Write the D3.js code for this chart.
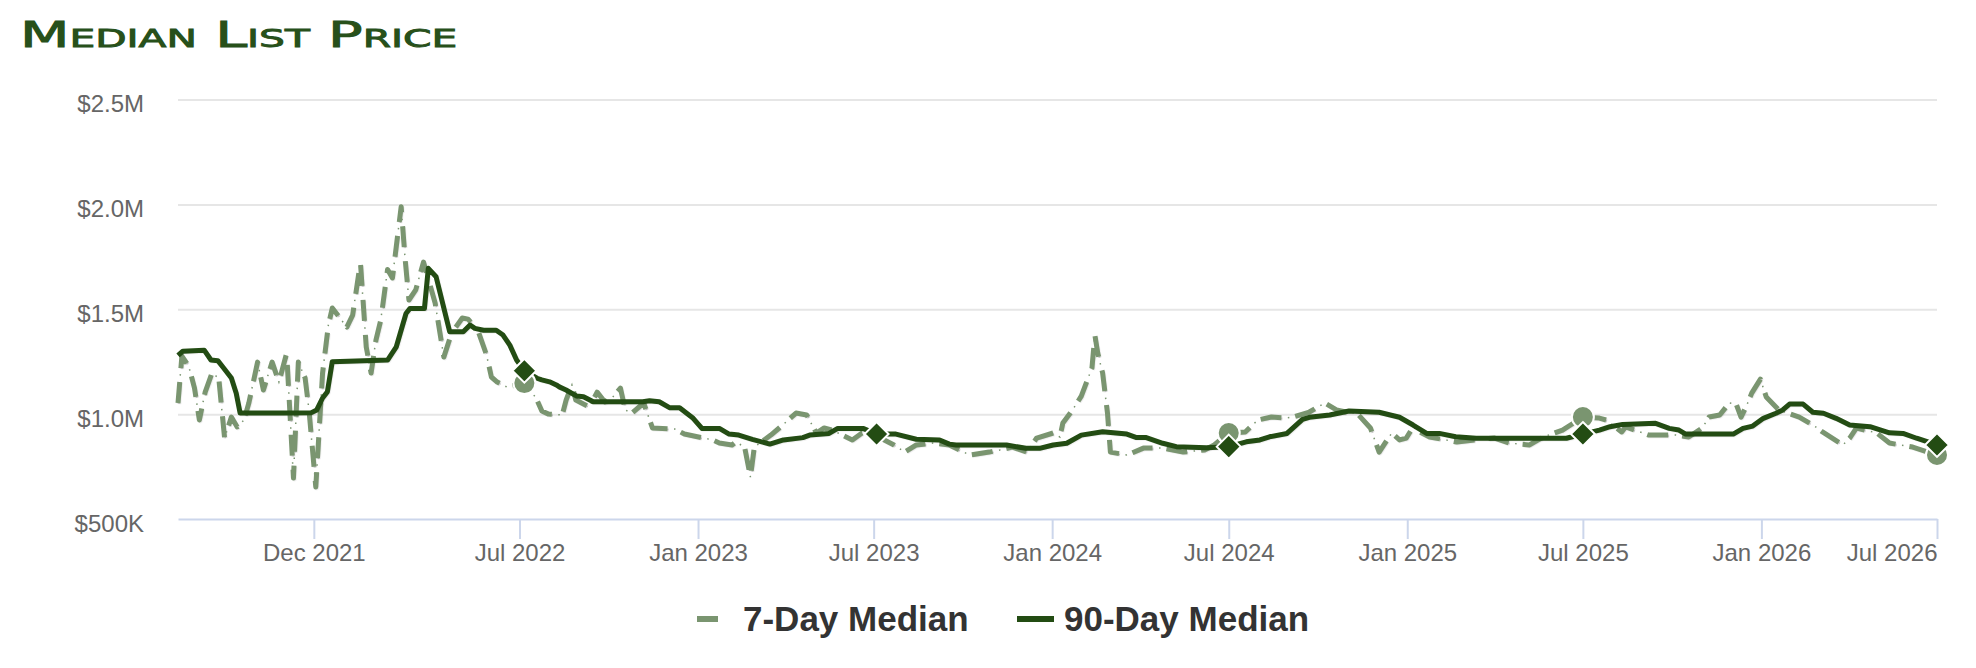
<!DOCTYPE html>
<html>
<head>
<meta charset="utf-8">
<script src="https://cdn.jsdelivr.net/npm/d3@7"></script>
<style>
body { margin: 0; background: #fff; }
svg { display: block; }
</style>
</head>
<body>
<svg id="chart" width="1976" height="668"></svg>
<script>
const sevenDay = [
    ["2021-07-14", 1053000], ["2021-07-18", 1277000], ["2021-07-25", 1229000], ["2021-07-31", 1124000],
    ["2021-08-05", 972000], ["2021-08-11", 1105000], ["2021-08-18", 1196000], ["2021-08-25", 1172000],
    ["2021-08-31", 886000], ["2021-09-07", 986000], ["2021-09-13", 939000], ["2021-09-20", 972000],
    ["2021-09-25", 1053000], ["2021-10-04", 1248000], ["2021-10-10", 1115000], ["2021-10-19", 1248000],
    ["2021-10-26", 1153000], ["2021-11-03", 1291000], ["2021-11-10", 695000], ["2021-11-15", 1248000],
    ["2021-11-22", 1172000], ["2021-11-26", 1020000], ["2021-12-03", 653000], ["2021-12-10", 1196000],
    ["2021-12-16", 1425000], ["2021-12-20", 1506000], ["2022-01-04", 1415000], ["2022-01-10", 1472000],
    ["2022-01-18", 1725000], ["2022-01-24", 1320000], ["2022-01-29", 1196000], ["2022-02-03", 1353000],
    ["2022-02-08", 1449000], ["2022-02-15", 1690000], ["2022-02-20", 1649000], ["2022-03-01", 1989000],
    ["2022-03-05", 1744000], ["2022-03-09", 1544000], ["2022-03-16", 1592000], ["2022-03-24", 1725000],
    ["2022-04-05", 1530000], ["2022-04-14", 1272000], ["2022-04-22", 1387000], ["2022-05-03", 1458000],
    ["2022-05-09", 1453000], ["2022-05-19", 1400000], ["2022-05-28", 1282000], ["2022-06-02", 1177000],
    ["2022-06-08", 1153000], ["2022-06-18", 1129000], ["2022-07-06", 1148000], ["2022-07-18", 1077000],
    ["2022-07-24", 1015000], ["2022-07-31", 1000000], ["2022-08-14", 996000], ["2022-08-18", 1067000],
    ["2022-08-24", 1139000], ["2022-08-28", 1067000], ["2022-09-11", 1034000], ["2022-09-19", 1105000],
    ["2022-09-27", 1058000], ["2022-10-05", 1081000], ["2022-10-13", 1124000], ["2022-10-18", 1020000],
    ["2022-10-25", 1005000], ["2022-11-06", 1053000], ["2022-11-15", 934000], ["2022-12-08", 929000],
    ["2022-12-18", 905000], ["2023-01-16", 877000], ["2023-01-23", 862000], ["2023-02-05", 853000],
    ["2023-02-09", 867000], ["2023-02-18", 843000], ["2023-02-24", 700000], ["2023-02-28", 843000],
    ["2023-03-17", 900000], ["2023-03-27", 939000], ["2023-04-12", 1005000], ["2023-04-23", 996000],
    ["2023-05-03", 910000], ["2023-05-11", 934000], ["2023-05-19", 924000], ["2023-06-09", 877000],
    ["2023-06-19", 910000], ["2023-07-04", 896000], ["2023-07-22", 853000], ["2023-08-02", 819000],
    ["2023-08-14", 853000], ["2023-08-31", 862000], ["2023-09-17", 853000], ["2023-10-08", 805000],
    ["2023-10-28", 819000], ["2023-11-08", 829000], ["2023-11-21", 843000], ["2023-12-06", 819000],
    ["2023-12-16", 886000], ["2024-01-02", 910000], ["2024-01-09", 891000], ["2024-01-12", 958000],
    ["2024-01-22", 1020000], ["2024-01-31", 1086000], ["2024-02-11", 1220000], ["2024-02-14", 1377000],
    ["2024-02-17", 1291000], ["2024-02-22", 1196000], ["2024-02-27", 1005000], ["2024-03-01", 819000],
    ["2024-03-18", 805000], ["2024-04-04", 838000], ["2024-04-24", 838000], ["2024-05-15", 819000],
    ["2024-06-06", 829000], ["2024-06-16", 853000], ["2024-07-01", 910000], ["2024-07-18", 915000],
    ["2024-07-31", 972000], ["2024-08-14", 986000], ["2024-08-28", 981000], ["2024-09-05", 986000],
    ["2024-09-22", 1010000], ["2024-10-08", 1053000], ["2024-10-20", 1020000], ["2024-10-30", 1010000],
    ["2024-11-10", 1005000], ["2024-11-24", 934000], ["2024-12-03", 819000], ["2024-12-16", 910000],
    ["2024-12-24", 877000], ["2024-12-31", 886000], ["2025-01-07", 939000], ["2025-01-14", 915000],
    ["2025-01-24", 891000], ["2025-02-21", 867000], ["2025-03-11", 877000], ["2025-04-01", 886000],
    ["2025-04-16", 862000], ["2025-05-07", 853000], ["2025-05-21", 891000], ["2025-06-10", 924000],
    ["2025-07-01", 986000], ["2025-07-18", 981000], ["2025-07-25", 972000], ["2025-08-10", 915000],
    ["2025-08-14", 939000], ["2025-09-07", 900000], ["2025-10-05", 900000], ["2025-10-18", 891000],
    ["2025-11-01", 934000], ["2025-11-08", 986000], ["2025-11-19", 996000], ["2025-11-29", 1053000],
    ["2025-12-06", 1048000], ["2025-12-11", 986000], ["2025-12-17", 1043000], ["2025-12-22", 1100000],
    ["2025-12-31", 1167000], ["2026-01-06", 1082000], ["2026-01-19", 1020000], ["2026-02-09", 986000],
    ["2026-02-26", 939000], ["2026-03-05", 915000], ["2026-03-26", 853000], ["2026-04-02", 886000],
    ["2026-04-09", 934000], ["2026-04-30", 910000], ["2026-05-13", 862000], ["2026-06-06", 843000],
    ["2026-07-01", 805000]
];

const ninetyDay = [
    ["2021-07-14", 1280000], ["2021-07-19", 1300000], ["2021-08-10", 1305000], ["2021-08-17", 1258000],
    ["2021-08-24", 1255000], ["2021-08-29", 1226000], ["2021-09-07", 1172000], ["2021-09-12", 1100000],
    ["2021-09-16", 1005000], ["2021-10-30", 1005000], ["2021-11-28", 1006000], ["2021-12-04", 1020000],
    ["2021-12-10", 1077000], ["2021-12-15", 1107000], ["2021-12-20", 1250000], ["2022-02-15", 1258000],
    ["2022-02-24", 1321000], ["2022-03-06", 1480000], ["2022-03-10", 1504000], ["2022-03-25", 1504000],
    ["2022-03-29", 1695000], ["2022-04-06", 1655000], ["2022-04-20", 1393000], ["2022-05-04", 1393000],
    ["2022-05-11", 1425000], ["2022-05-16", 1409000], ["2022-05-25", 1400000], ["2022-06-07", 1400000],
    ["2022-06-14", 1377000], ["2022-06-21", 1329000], ["2022-06-28", 1258000], ["2022-07-06", 1207000],
    ["2022-07-19", 1171000], ["2022-07-24", 1163000], ["2022-08-01", 1154000], ["2022-08-08", 1139000],
    ["2022-08-11", 1130000], ["2022-08-18", 1115000], ["2022-08-29", 1086000], ["2022-09-05", 1083000],
    ["2022-09-15", 1059000], ["2022-11-05", 1059000], ["2022-11-12", 1064000], ["2022-11-22", 1059000],
    ["2022-12-03", 1030000], ["2022-12-13", 1030000], ["2022-12-27", 980000], ["2023-01-05", 932000],
    ["2023-01-23", 932000], ["2023-02-02", 905000], ["2023-02-12", 900000], ["2023-02-26", 880000],
    ["2023-03-16", 857000], ["2023-03-30", 877000], ["2023-04-19", 888000], ["2023-04-26", 900000],
    ["2023-05-16", 908000], ["2023-05-25", 932000], ["2023-06-20", 932000], ["2023-07-04", 905000],
    ["2023-07-24", 905000], ["2023-08-14", 880000], ["2023-09-07", 877000], ["2023-09-17", 857000],
    ["2023-09-24", 853000], ["2023-11-15", 853000], ["2023-12-05", 837000], ["2023-12-19", 837000],
    ["2024-01-02", 853000], ["2024-01-16", 861000], ["2024-01-31", 900000], ["2024-02-22", 916000],
    ["2024-03-18", 905000], ["2024-03-28", 888000], ["2024-04-07", 888000], ["2024-04-24", 861000],
    ["2024-05-08", 845000], ["2024-06-08", 840000], ["2024-07-01", 845000], ["2024-07-19", 868000],
    ["2024-08-02", 877000], ["2024-08-12", 892000], ["2024-08-30", 908000], ["2024-09-15", 975000],
    ["2024-09-22", 985000], ["2024-10-13", 996000], ["2024-11-02", 1015000], ["2024-12-03", 1009000],
    ["2024-12-24", 985000], ["2025-01-07", 948000], ["2025-01-21", 908000], ["2025-02-03", 908000],
    ["2025-02-20", 892000], ["2025-03-13", 885000], ["2025-06-14", 885000], ["2025-07-01", 905000],
    ["2025-07-18", 924000], ["2025-07-29", 940000], ["2025-08-11", 951000], ["2025-09-14", 956000],
    ["2025-09-28", 932000], ["2025-10-08", 924000], ["2025-10-15", 905000], ["2025-12-03", 905000],
    ["2025-12-13", 932000], ["2025-12-23", 943000], ["2026-01-03", 980000], ["2026-01-16", 1004000],
    ["2026-01-23", 1020000], ["2026-01-30", 1048000], ["2026-02-13", 1048000], ["2026-02-23", 1009000],
    ["2026-03-06", 1004000], ["2026-03-19", 980000], ["2026-04-02", 948000], ["2026-04-23", 940000],
    ["2026-05-13", 911000], ["2026-05-27", 908000], ["2026-06-10", 885000], ["2026-07-01", 853000]
];

const yTicks = [500000, 1000000, 1500000, 2000000, 2500000];
const yTickLabels = ["$500K", "$1.0M", "$1.5M", "$2.0M", "$2.5M"];
const xTicks = ["2021-12-01", "2022-07-01", "2023-01-01", "2023-07-01", "2024-01-01",
    "2024-07-01", "2025-01-01", "2025-07-01", "2026-01-01", "2026-07-01"];
const xTickLabels = ["Dec 2021", "Jul 2022", "Jan 2023", "Jul 2023", "Jan 2024",
    "Jul 2024", "Jan 2025", "Jul 2025", "Jan 2026", "Jul 2026"];
const sevenDayMarkers = ["2022-07-06", "2024-07-01", "2025-07-01", "2026-07-01"];
const ninetyDayMarkers = ["2022-07-06", "2023-07-04", "2024-07-01", "2025-07-01", "2026-07-01"];
const legendLabels = ["7-Day Median", "90-Day Median"];
const titleText = "Median List Price";

const colors = {
    seven: "#7a9570",
    ninety: "#234c13",
    title: "#27501a",
    grid: "#e6e6e6",
    axis: "#ccd6eb",
    label: "#666666",
    legend: "#333333"
};
const dash = "21,14";
const parse = d3.utcParse("%Y-%m-%d");
const plot = { left: 178, right: 1937, top: 99.5, bottom: 519 };

const svg = d3.select("#chart");

const x = d3.scaleUtc()
    .domain([parse("2021-07-14"), parse("2026-07-01")])
    .range([plot.left, plot.right]);
const y = d3.scaleLinear()
    .domain([500000, 2500000])
    .range([plot.bottom, plot.top]);

// title: wide small caps, stretched to the reference width
const title = svg.append("text")
    .attr("x", 0)
    .attr("y", 0)
    .style("font-family", "'DejaVu Sans', sans-serif")
    .style("font-variant", "small-caps")
    .style("font-size", "36px")
    .attr("fill", colors.title)
    .attr("stroke", colors.title)
    .attr("stroke-width", 0.9)
    .text(titleText);
const titleW = title.node().getComputedTextLength();
title.attr("transform", `translate(20,47) scale(${431 / titleW},1)`);

// y axis + grid
const yAxis = svg.append("g")
    .attr("transform", `translate(${plot.left},0)`)
    .call(d3.axisLeft(y)
        .tickValues(yTicks)
        .tickFormat((d, i) => yTickLabels[i])
        .tickSize(-(plot.right - plot.left))
        .tickPadding(34));
yAxis.select(".domain").remove();
yAxis.selectAll(".tick line")
    .attr("stroke", (d) => d === 500000 ? "none" : colors.grid)
    .attr("stroke-width", 2);
yAxis.selectAll(".tick text")
    .attr("dy", 12)
    .attr("fill", colors.label)
    .style("font-family", "'Liberation Sans', Arial, sans-serif")
    .style("font-size", "24px");

// x axis
const xAxis = svg.append("g")
    .attr("transform", `translate(0,${plot.bottom})`)
    .call(d3.axisBottom(x)
        .tickValues(xTicks.map(parse))
        .tickFormat((d, i) => xTickLabels[i])
        .tickSize(20)
        .tickSizeOuter(0)
        .tickPadding(5));
xAxis.select(".domain")
    .attr("stroke", colors.axis)
    .attr("stroke-width", 2);
xAxis.selectAll(".tick line")
    .attr("stroke", colors.axis)
    .attr("stroke-width", 2);
xAxis.selectAll(".tick text")
    .attr("fill", colors.label)
    .style("font-family", "'Liberation Sans', Arial, sans-serif")
    .style("font-size", "24px")
    .attr("text-anchor", (d, i, n) => i === n.length - 1 ? "end" : "middle");

const line = d3.line()
    .x(d => x(parse(d[0])))
    .y(d => y(d[1]));

function drawSeries(data, color, dasharray) {
    const g = svg.append("g");
    const shadow = g.append("g").attr("transform", "translate(1,1)");
    [5, 3, 1].forEach((w, i) => {
        shadow.append("path")
            .attr("d", line(data))
            .attr("fill", "none")
            .attr("stroke", "#000")
            .attr("stroke-opacity", 0.05 * (i + 1))
            .attr("stroke-width", w)
            .attr("stroke-linejoin", "round")
            .attr("stroke-dasharray", dasharray);
    });
    g.append("path")
        .attr("d", line(data))
        .attr("fill", "none")
        .attr("stroke", color)
        .attr("stroke-width", 5)
        .attr("stroke-linejoin", "round")
        .attr("stroke-dasharray", dasharray);
    if (dasharray) {
        // the little dots that sit in each gap
        g.append("path")
            .attr("d", line(data))
            .attr("fill", "none")
            .attr("stroke", color)
            .attr("stroke-width", 1.5)
            .attr("stroke-dasharray", "1.5,33.5")
            .attr("stroke-dashoffset", -27.5);
    }
}

drawSeries(sevenDay, colors.seven, dash);
drawSeries(ninetyDay, colors.ninety, null);

const pick = (data, dates) => data.filter(d => dates.includes(d[0]));

svg.append("g")
    .selectAll("circle")
    .data(pick(sevenDay, sevenDayMarkers))
    .join("circle")
    .attr("cx", d => x(parse(d[0])))
    .attr("cy", d => y(d[1]))
    .attr("r", 11)
    .attr("fill", colors.seven)
    .attr("stroke", "#fff")
    .attr("stroke-width", 2);

svg.append("g")
    .selectAll("path")
    .data(pick(ninetyDay, ninetyDayMarkers))
    .join("path")
    .attr("transform", d => `translate(${x(parse(d[0]))},${y(d[1])})`)
    .attr("d", "M0,-12L12,0L0,12L-12,0Z")
    .attr("fill", colors.ninety)
    .attr("stroke", "#fff")
    .attr("stroke-width", 2);

// legend
const legendItems = [
    { label: legendLabels[0], color: colors.seven, dash: dash, x0: 697, x1: 732, tx: 743 },
    { label: legendLabels[1], color: colors.ninety, dash: null, x0: 1017, x1: 1054, tx: 1064 }
];
const legend = svg.append("g")
    .selectAll("g")
    .data(legendItems)
    .join("g");
legend.append("line")
    .attr("x1", d => d.x0)
    .attr("x2", d => d.x1)
    .attr("y1", 619)
    .attr("y2", 619)
    .attr("stroke", d => d.color)
    .attr("stroke-width", 6)
    .attr("stroke-dasharray", d => d.dash);
legend.append("text")
    .attr("x", d => d.tx)
    .attr("y", 631)
    .attr("fill", colors.legend)
    .style("font-family", "'Liberation Sans', Arial, sans-serif")
    .style("font-size", "35px")
    .style("font-weight", "bold")
    .text(d => d.label);
</script>
</body>
</html>
